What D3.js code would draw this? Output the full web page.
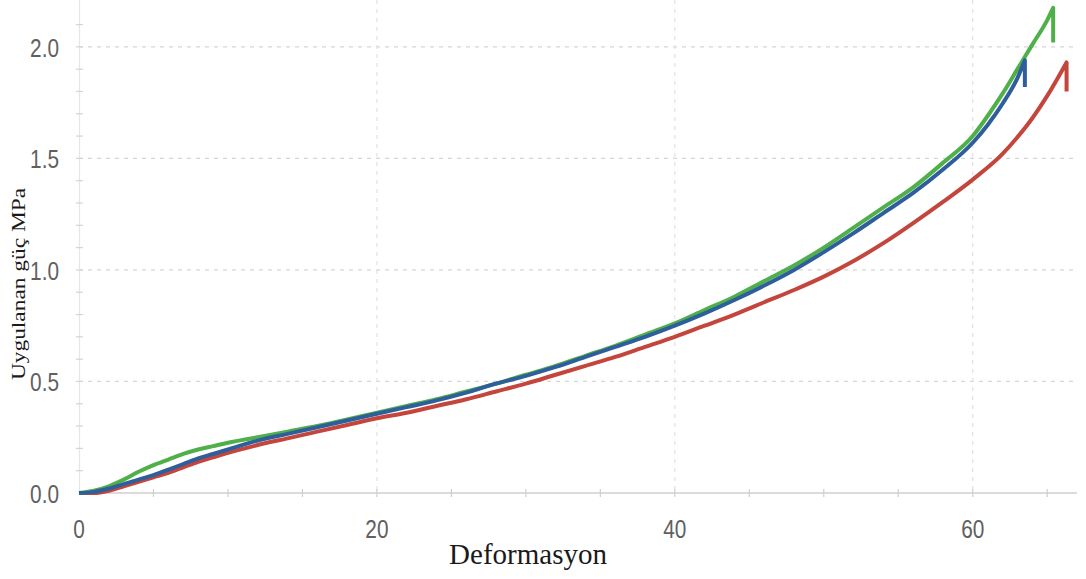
<!DOCTYPE html>
<html>
<head>
<meta charset="utf-8">
<script src="https://cdn.jsdelivr.net/npm/d3@7"></script>
<style>
  html, body { margin: 0; padding: 0; background: #fff; }
  svg { display: block; }
</style>
</head>
<body>
<svg id="chart" width="1086" height="579"></svg>
<script>
// Stress–strain curves for three samples
const xLabel = "Deformasyon";
const yLabel = "Uygulanan güç MPa";

const xTicks = [0, 20, 40, 60];
const yTicks = [0.0, 0.5, 1.0, 1.5, 2.0];

// deformation values and applied stress (MPa) per sample
const greenX = [0, 1, 2, 3, 4, 5, 6, 7, 8, 9, 10, 12, 14, 16, 18, 20, 22, 24, 26, 28, 30, 32, 34, 36, 38, 40, 42, 44, 46, 48, 50, 52, 54, 56, 58, 60, 61, 62, 63, 64, 65, 65.4];
const greenY = [0, 0.01, 0.03, 0.06, 0.095, 0.125, 0.15, 0.175, 0.195, 0.21, 0.225, 0.25, 0.275, 0.30, 0.33, 0.36, 0.39, 0.42, 0.455, 0.49, 0.53, 0.57, 0.615, 0.66, 0.71, 0.76, 0.82, 0.88, 0.95, 1.02, 1.10, 1.19, 1.28, 1.37, 1.48, 1.60, 1.69, 1.79, 1.90, 2.01, 2.12, 2.175];
const greenBreak = 2.02;

const blueX = [0, 1, 2, 3, 4, 5, 6, 7, 8, 9, 10, 12, 14, 16, 18, 20, 22, 24, 26, 28, 30, 32, 34, 36, 38, 40, 42, 44, 46, 48, 50, 52, 54, 56, 58, 60, 61, 62, 63, 63.5];
const blueY = [0, 0.005, 0.02, 0.04, 0.06, 0.08, 0.105, 0.13, 0.155, 0.175, 0.195, 0.235, 0.265, 0.295, 0.325, 0.355, 0.385, 0.415, 0.45, 0.49, 0.525, 0.565, 0.61, 0.655, 0.70, 0.75, 0.805, 0.865, 0.93, 1.0, 1.08, 1.165, 1.255, 1.345, 1.45, 1.57, 1.65, 1.745, 1.86, 1.94];
const blueBreak = 1.82;

const redX = [0, 1, 2, 3, 4, 5, 6, 7, 8, 9, 10, 12, 14, 16, 18, 20, 22, 24, 26, 28, 30, 32, 34, 36, 38, 40, 42, 44, 46, 48, 50, 52, 54, 56, 58, 60, 62, 63, 64, 65, 66.3];
const redY = [0, 0.0, 0.01, 0.03, 0.05, 0.07, 0.09, 0.115, 0.14, 0.16, 0.18, 0.215, 0.245, 0.275, 0.305, 0.335, 0.36, 0.39, 0.42, 0.455, 0.49, 0.53, 0.57, 0.61, 0.655, 0.70, 0.75, 0.80, 0.855, 0.91, 0.97, 1.04, 1.12, 1.21, 1.305, 1.405, 1.52, 1.595, 1.68, 1.78, 1.93];
const redBreak = 1.80;

const svg = d3.select("#chart");

const x = d3.scaleLinear().domain([0, 67]).range([79, 1077]);
const y = d3.scaleLinear().domain([0, 2.21]).range([493, 0]);

const gridColor = "#d6d6d6";
const axisColor = "#cfcfcf";
const labelColor = "#666";

// dashed horizontal grid
svg.append("g")
  .selectAll("line")
  .data(yTicks.filter(d => d > 0))
  .join("line")
  .attr("x1", x(0)).attr("x2", x.range()[1])
  .attr("y1", d => y(d)).attr("y2", d => y(d))
  .attr("stroke", gridColor)
  .attr("stroke-width", 1.3)
  .attr("stroke-dasharray", "4,5");

// dashed vertical grid
svg.append("g")
  .selectAll("line")
  .data(xTicks.filter(d => d > 0))
  .join("line")
  .attr("x1", d => x(d)).attr("x2", d => x(d))
  .attr("y1", 0).attr("y2", y(0))
  .attr("stroke", "#e2e2e2")
  .attr("stroke-width", 1.2)
  .attr("stroke-dasharray", "4,5");

// axis lines
svg.append("line")
  .attr("x1", x(0)).attr("x2", x.range()[1])
  .attr("y1", y(0)).attr("y2", y(0))
  .attr("stroke", axisColor).attr("stroke-width", 1.3);
svg.append("line")
  .attr("x1", x(0) + 0.5).attr("x2", x(0) + 0.5)
  .attr("y1", 0).attr("y2", y(0))
  .attr("stroke", "#e6e6e6").attr("stroke-width", 1.2);

// minor ticks
svg.append("g")
  .selectAll("line")
  .data(d3.range(5, 66, 5))
  .join("line")
  .attr("x1", d => x(d)).attr("x2", d => x(d))
  .attr("y1", y(0) - 4).attr("y2", y(0) + 4)
  .attr("stroke", axisColor).attr("stroke-width", 1.2);
svg.append("g")
  .selectAll("line")
  .data(d3.range(1, 22).map(i => i / 10))
  .join("line")
  .attr("x1", x(0) - 3).attr("x2", x(0) + 4)
  .attr("y1", d => y(d)).attr("y2", d => y(d))
  .attr("stroke", "#d4d4d4").attr("stroke-width", 1.2);

// tick labels
svg.append("g")
  .selectAll("text")
  .data(yTicks)
  .join("text")
  .attr("transform", d => `translate(59,${y(d) + 10}) scale(0.8,1)`)
  .attr("text-anchor", "end")
  .attr("font-family", "Liberation Sans, Arial, sans-serif")
  .attr("font-size", 26)
  .attr("fill", "#606060")
  .text(d => d3.format(".1f")(d));

svg.append("g")
  .selectAll("text")
  .data(xTicks)
  .join("text")
  .attr("transform", d => `translate(${x(d)},538) scale(0.8,1)`)
  .attr("text-anchor", "middle")
  .attr("font-family", "Liberation Sans, Arial, sans-serif")
  .attr("font-size", 26)
  .attr("fill", "#606060")
  .text(d => d);

// axis titles
svg.append("text")
  .attr("x", 528).attr("y", 564)
  .attr("text-anchor", "middle")
  .attr("font-family", "Liberation Serif, Times New Roman, serif")
  .attr("font-size", 29)
  .attr("fill", "#1a1a1a")
  .text(xLabel);

svg.append("text")
  .attr("transform", "translate(25,284) rotate(-90) scale(1.3,1)")
  .attr("text-anchor", "middle")
  .attr("font-family", "Liberation Serif, Times New Roman, serif")
  .attr("font-size", 18)
  .attr("fill", "#1a1a1a")
  .text(yLabel);

// curves
const line = d3.line()
  .x(d => x(d[0]))
  .y(d => y(d[1]))
  .curve(d3.curveMonotoneX);

const series = [
  { xs: redX, ys: redY, brk: redBreak, color: "#c4453b" },
  { xs: greenX, ys: greenY, brk: greenBreak, color: "#4fb04a" },
  { xs: blueX, ys: blueY, brk: blueBreak, color: "#2f5e9c" }
];

series.forEach(s => {
  const pts = s.xs.map((v, i) => [v, s.ys[i]]);
  const last = s.xs[s.xs.length - 1];
  const path = line(pts) + `L${x(last)},${y(s.brk)}`;
  svg.append("path")
    .attr("d", path)
    .attr("fill", "none")
    .attr("stroke", s.color)
    .attr("stroke-width", 4)
    .attr("stroke-linejoin", "round")
    .attr("stroke-linecap", "butt");
});
</script>
</body>
</html>
